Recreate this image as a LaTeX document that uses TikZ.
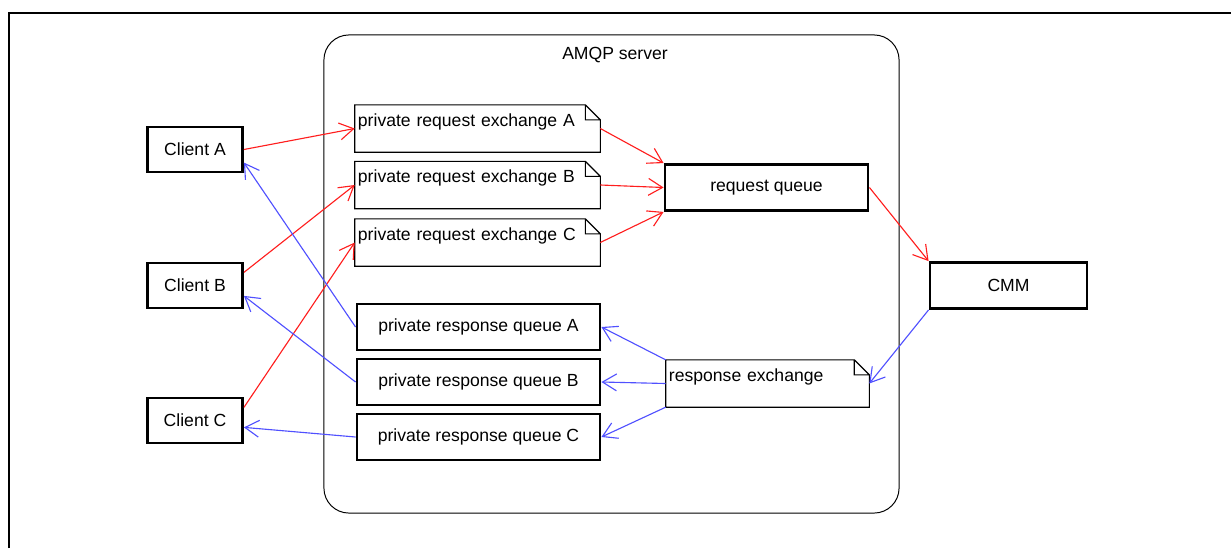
\documentclass[tikz,border=0pt]{standalone}
\usepackage{fontspec}
\setmainfont{Liberation Sans}
\usetikzlibrary{arrows.meta}

\definecolor{reqred}{RGB}{255,30,30}
\definecolor{resblue}{RGB}{80,80,255}

\begin{document}
\begin{tikzpicture}[x=0.025cm, y=-0.025cm, font=\fontsize{12.5}{15}\selectfont,
  client/.style={draw, line width=2pt, minimum width=2.375cm, minimum height=1.125cm, inner sep=0},
  queuebox/.style={draw, line width=2pt, minimum height=1.15cm, inner sep=0},
  notebox/.style={text width=#1, align=left, inner xsep=0.075cm, inner ysep=0, text height=0.53cm, text depth=0.64cm},
  server/.style={draw, line width=0.7pt, rounded corners=0.625cm, minimum width=14.375cm, minimum height=11.95cm},
  req/.style={reqred, line width=0.8pt, -{Straight Barb[length=10pt,width=12pt]}},
  res/.style={resblue, line width=0.8pt, -{Straight Barb[length=10pt,width=12pt]}}]
\useasboundingbox (0,0) rectangle (1231,548);
% frame
\draw[line width=2pt] (9,548) -- (9,13) -- (1231,13);
% server
\node[server] (srv) at (611.5,274) {};
\node (srvtitle) at (615,55) {AMQP server};
% clients
\node[client] (ca) at (195,149.5) {Client A};
\node[client] (cb) at (195,285.5) {Client B};
\node[client] (cc) at (195,420.5) {Client C};
% request side
\node[notebox=5.975cm] (reqA) at (477.5,128.5) {private request exchange A};
\node[notebox=5.975cm] (reqB) at (477.5,185) {private request exchange B};
\node[notebox=5.975cm] (reqC) at (477.5,242.5) {private request exchange C};
\node[queuebox, minimum width=5.075cm] (rq) at (766.5,187.5) {request queue};
\node[queuebox, minimum width=3.925cm] (cmm) at (1008.5,285.5) {CMM};
% response side
\node[queuebox, minimum width=6.075cm] (rspA) at (478.5,327) {private response queue A};
\node[queuebox, minimum width=6.075cm] (rspB) at (478.5,382) {private response queue B};
\node[queuebox, minimum width=6.075cm] (rspC) at (478.5,437) {private response queue C};
\node[notebox=4.925cm] (rex) at (767.5,383.5) {response exchange};
% note outlines with folded corner
\foreach \n in {reqA,reqB,reqC,rex}
  \draw[line width=0.8pt] (\n.north west) -- ([xshift=-0.375cm]\n.north east) -- ([yshift=-0.375cm]\n.north east)
    -- (\n.south east) -- (\n.south west) -- cycle
    ([xshift=-0.375cm]\n.north east) |- ([yshift=-0.375cm]\n.north east);
% requests
\draw[req] (ca.east) -- (reqA.west);
\draw[req] (cb.15) -- (reqB.west);
\draw[req] (cc.15) -- (reqC.west);
\draw[req] (reqA.east) -- (rq.north west);
\draw[req] (reqB.east) -- (rq.west);
\draw[req] (reqC.east) -- (rq.south west);
\draw[req] (rq.east) -- (cmm.north west);
% responses
\draw[res] (cmm.south west) -- (rex.east);
\draw[res] (rex.north west) -- (rspA.east);
\draw[res] (rex.west) -- (rspB.east);
\draw[res] (rex.south west) -- (rspC.east);
\draw[res] (rspA.west) -- (ca.-15);
\draw[res] (rspB.west) -- (cb.-12);
\draw[res] (rspC.west) -- (cc.-8);
\end{tikzpicture}
\end{document}
